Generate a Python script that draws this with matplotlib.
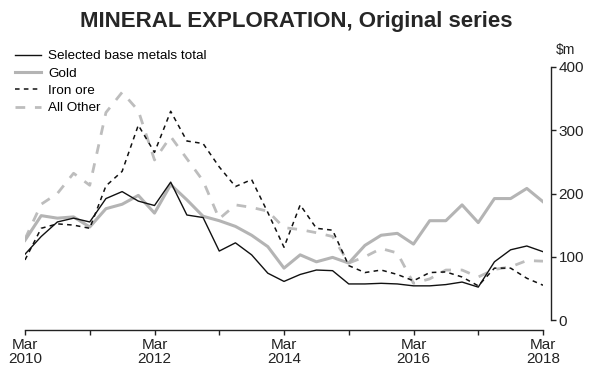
import matplotlib
matplotlib.use("Agg")
import matplotlib.pyplot as plt

# quarterly, Mar 2010 .. Mar 2018 ($m)
years = [2010, 2011, 2012, 2013, 2014, 2015, 2016, 2017, 2018]

base_metals = [104, 132, 155, 161, 155, 192, 203, 188, 181, 218, 166, 162, 109,
               122, 103, 74, 61, 72, 79, 78, 57, 57, 58, 57, 54, 54, 56, 60, 52,
               92, 111, 117, 108]
gold = [126, 165, 161, 163, 147, 176, 183, 197, 169, 214, 190, 164, 157, 148,
        134, 116, 82, 103, 92, 99, 90, 118, 134, 137, 120, 157, 157, 182, 154,
        192, 192, 208, 187]
iron_ore = [95, 145, 152, 150, 145, 212, 235, 308, 265, 330, 283, 279, 242, 211,
            222, 170, 115, 182, 145, 142, 86, 75, 79, 72, 62, 75, 76, 68, 54,
            82, 82, 66, 55]
all_other = [128, 183, 200, 232, 213, 328, 360, 331, 253, 290, 255, 220, 160,
             182, 178, 172, 146, 143, 138, 132, 90, 100, 113, 106, 58, 65, 79,
             79, 68, 80, 84, 94, 93]

plt.rcParams['font.family'] = ['Liberation Sans', 'DejaVu Sans']

W, H = 592, 376
fig = plt.figure(figsize=(W / 100, H / 100), dpi=100)
ax = fig.add_axes([25 / W, (H - 320) / H, (543 - 25) / W, (320 - 67) / H])

x = list(range(len(gold)))
grey = '#b4b4b4'

l1, = ax.plot(x, base_metals, color='#111111', lw=1.0, zorder=5,
              label='Selected base metals total')
l2, = ax.plot(x, gold, color=grey, lw=2.2, zorder=3, label='Gold')
l3, = ax.plot(x, iron_ore, color='#111111', lw=1.1, dashes=(3, 2.8), zorder=4,
              label='Iron ore')
l4, = ax.plot(x, all_other, color='#bdbdbd', lw=2.0, dashes=(3.5, 3.5), zorder=2,
              label='All Other')

ax.set_xlim(0, 32)
ax.set_ylim(0, 400)

# axes styling
ax.spines['top'].set_visible(False)
ax.spines['left'].set_visible(False)
ax.spines['right'].set_position(('outward', 5.8))
ax.spines['bottom'].set_position(('outward', 7.2))
ax.spines['right'].set_bounds(0, 400)
ax.spines['bottom'].set_bounds(0, 32)
for s in ('right', 'bottom'):
    ax.spines[s].set_linewidth(1.0)
    ax.spines[s].set_color('#222222')

ax.yaxis.tick_right()
ax.set_yticks([0, 100, 200, 300, 400])
ax.tick_params(axis='y', length=3.5, width=1.0, pad=2, labelsize=11,
               colors='#222222')

ax.set_xticks([4 * i for i in range(len(years))])
ax.set_xticklabels(['Mar\n%d' % y if y % 2 == 0 else '' for y in years])
ax.tick_params(axis='x', length=3.5, width=1.0, pad=2, labelsize=11,
               colors='#222222')
for t in ax.get_xticklabels():
    t.set_linespacing(1.05)

fig.text(556 / W, 1 - 50 / H, '$m', fontsize=10, color='#222222',
         ha='left', va='center')

fig.text(0.5, 1 - 21 / H, 'MINERAL EXPLORATION, Original series',
         fontsize=16, fontweight='bold', color='#262626',
         ha='center', va='center')

fig.legend(handles=[l1, l2, l3, l4], loc='upper left',
           bbox_to_anchor=(15 / W, 1 - 50 / H), frameon=False,
           fontsize=9.7, handlelength=1.95, handletextpad=0.5,
           labelspacing=0.36, borderpad=0, borderaxespad=0)

fig.savefig('out.png', dpi=100)
